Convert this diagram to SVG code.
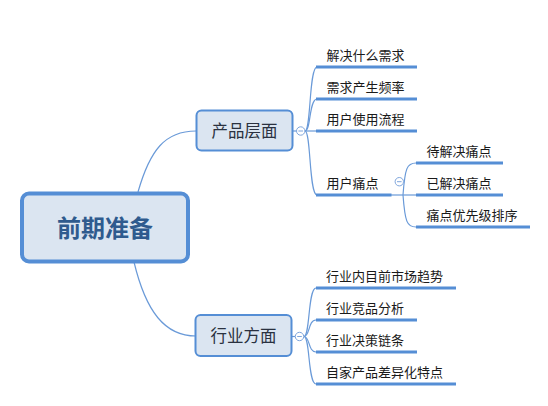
<svg xmlns="http://www.w3.org/2000/svg" width="548" height="406" viewBox="0 0 548 406">
<style>
.conn{fill:none;stroke:#6a9ad8;stroke-width:1.2}
.ul{stroke:#558ed5;stroke-width:3;stroke-linecap:butt}
.box{fill:#dbe5f1;stroke:#558ed5}
.t{font-family:"Noto Sans CJK SC","Noto Sans",sans-serif;fill:#1a1a1a}
.lbl{font-size:13px}
.mid{font-size:16.5px;fill:#2a3140;text-anchor:middle}
.root{font-size:24px;font-weight:bold;fill:#2f5b8e;text-anchor:middle}
.fold circle{fill:#fff;stroke:#7ea5dc;stroke-width:1}
.fold line{stroke:#7ea5dc;stroke-width:1}
</style>
<rect width="548" height="406" fill="#fff"/>
<g id="connectors">
<path class="conn" d="M138,192 C150,150 165,131 196,131"/>
<path class="conn" d="M134,262 C146,312 165,336 196,336"/>
<line class="conn" x1="293" y1="131" x2="296.5" y2="131"/>
<line class="conn" x1="292" y1="336.5" x2="295" y2="336.5"/>
<path class="conn" d="M305,131 C311,131 309,67 317,67"/>
<path class="conn" d="M305,131 C311,131 309,99 317,99"/>
<path class="conn" d="M305,131 L317,131"/>
<path class="conn" d="M305,131 C311,131 309,195 317,195"/>
<path class="conn" d="M304,336.5 C310,336.5 308,288 316,288"/>
<path class="conn" d="M304,336.5 C310,336.5 308,320 316,320"/>
<path class="conn" d="M304,336.5 C310,336.5 308,352 316,352"/>
<path class="conn" d="M304,336.5 C310,336.5 308,384 316,384"/>
<line class="conn" x1="391" y1="195" x2="416" y2="195"/>
<path class="conn" d="M403,195 C405,168 407,163 416,163"/>
<path class="conn" d="M403,195 C405,222 407,227 416,227"/>
</g>
<g id="root">
<rect class="box" x="22" y="193.5" width="166" height="68" rx="7" stroke-width="4"/>
<text class="t root" x="105" y="237">前期准备</text>
</g>
<g id="n-product">
<rect class="box" x="196.5" y="110.5" width="96" height="40" rx="5" stroke-width="2"/>
<text class="t mid" x="244.5" y="137">产品层面</text>
<g class="fold"><circle cx="300.7" cy="131" r="4.2"/><line x1="298.4" y1="131" x2="303" y2="131"/></g>
</g>
<g id="n-industry">
<rect class="box" x="195.5" y="315" width="96" height="41" rx="5" stroke-width="2"/>
<text class="t mid" x="243.5" y="342">行业方面</text>
<g class="fold"><circle cx="299.5" cy="336.5" r="4.2"/><line x1="297.2" y1="336.5" x2="301.8" y2="336.5"/></g>
</g>
<g id="c1"><text class="t lbl" x="326.5" y="59.5">解决什么需求</text><line class="ul" x1="316" y1="67" x2="417" y2="67"/></g>
<g id="c2"><text class="t lbl" x="326.5" y="91.5">需求产生频率</text><line class="ul" x1="316" y1="99" x2="417" y2="99"/></g>
<g id="c3"><text class="t lbl" x="326.5" y="123.5">用户使用流程</text><line class="ul" x1="316" y1="131" x2="417" y2="131"/></g>
<g id="c4"><text class="t lbl" x="326.5" y="187.5">用户痛点</text><line class="ul" x1="316" y1="195" x2="391.5" y2="195"/>
<g class="fold"><circle cx="399.3" cy="181.7" r="4.2"/><line x1="397" y1="181.7" x2="401.6" y2="181.7"/></g>
</g>
<g id="c4a"><text class="t lbl" x="426.5" y="155.5">待解决痛点</text><line class="ul" x1="416" y1="163" x2="503" y2="163"/></g>
<g id="c4b"><text class="t lbl" x="426.5" y="187.5">已解决痛点</text><line class="ul" x1="416" y1="195" x2="503" y2="195"/></g>
<g id="c4c"><text class="t lbl" x="426.5" y="219.5">痛点优先级排序</text><line class="ul" x1="416" y1="227" x2="530" y2="227"/></g>
<g id="d1"><text class="t lbl" x="326" y="280.5">行业内目前市场趋势</text><line class="ul" x1="316" y1="288" x2="456" y2="288"/></g>
<g id="d2"><text class="t lbl" x="326" y="312.5">行业竞品分析</text><line class="ul" x1="316" y1="320" x2="417" y2="320"/></g>
<g id="d3"><text class="t lbl" x="326" y="344.5">行业决策链条</text><line class="ul" x1="316" y1="352" x2="417" y2="352"/></g>
<g id="d4"><text class="t lbl" x="326" y="376.5">自家产品差异化特点</text><line class="ul" x1="316" y1="384" x2="456" y2="384"/></g>
</svg>
